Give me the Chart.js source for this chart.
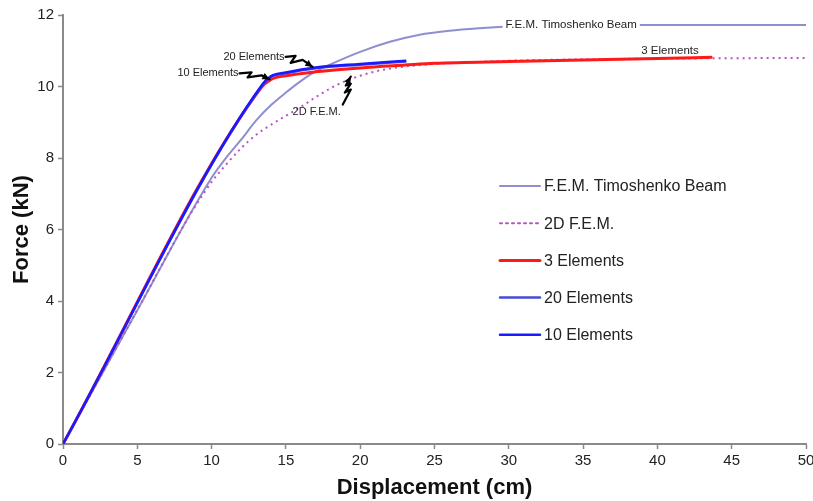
<!DOCTYPE html>
<html><head><meta charset="utf-8">
<script src="https://cdn.jsdelivr.net/npm/chart.js@4.4.1/dist/chart.umd.min.js"></script>
<style>html,body{margin:0;padding:0;background:#fff;}#wrap{width:813px;height:501px;}</style>
</head><body><div id="wrap"><canvas id="c" width="813" height="501"></canvas></div>
<script>
// ---- data (displacement cm, force kN) ----
const timoX = [0, 5, 10, 11, 12, 13, 14, 15, 16, 17, 18, 20, 22, 24, 26, 28, 30, 33, 40, 50];
const timoY = [0, 3.74, 7.45, 8.02, 8.52, 9.05, 9.48, 9.83, 10.15, 10.42, 10.62, 10.97, 11.25, 11.45, 11.56, 11.63, 11.68, 11.72, 11.72, 11.72];
const fem2dX = [0, 5, 8.5, 9.5, 10, 11, 12, 13, 14, 15, 16, 17, 18, 19, 20, 21, 22, 24, 27, 30, 35, 40, 50];
const fem2dY = [0, 3.75, 6.38, 7.03, 7.33, 7.83, 8.28, 8.65, 8.93, 9.18, 9.43, 9.7, 9.95, 10.15, 10.3, 10.42, 10.5, 10.6, 10.67, 10.72, 10.76, 10.78, 10.8];
const el3X = [0, 13.3, 14, 15, 17, 20, 23, 25, 30, 35, 40, 43.7];
const el3Y = [0, 9.95, 10.2, 10.3, 10.41, 10.52, 10.6, 10.65, 10.7, 10.74, 10.78, 10.82];
const el20X = [0, 13.4, 14, 15, 17, 20, 23.1];
const el20Y = [0, 10.03, 10.27, 10.37, 10.51, 10.61, 10.7];
const el10X = [0, 13.4, 14, 15, 17, 20, 23.1];
const el10Y = [0, 10.05, 10.29, 10.39, 10.53, 10.63, 10.72];
const xTicks = [0, 5, 10, 15, 20, 25, 30, 35, 40, 45, 50];
const yTicks = [0, 2, 4, 6, 8, 10, 12];
const seriesNames = ['F.E.M. Timoshenko Beam', '2D F.E.M.', '3 Elements', '20 Elements', '10 Elements'];

const pts = (xs, ys) => xs.map((x, i) => ({x, y: ys[i]}));
const FONT = "'Liberation Sans', Arial, sans-serif";

const datasets = [
  {label: seriesNames[0], data: pts(timoX, timoY), borderColor: '#8e8ed0', borderWidth: 2, order: 5},
  {label: seriesNames[1], data: pts(fem2dX, fem2dY), borderColor: '#b455c0', borderWidth: 2, borderDash: [2, 4], order: 4},
  {label: seriesNames[2], data: pts(el3X, el3Y), borderColor: '#ff1a1a', borderWidth: 3, order: 3},
  {label: seriesNames[3], data: pts(el20X, el20Y), borderColor: '#4a4ad8', borderWidth: 2.5, order: 2},
  {label: seriesNames[4], data: pts(el10X, el10Y), borderColor: '#1a1aff', borderWidth: 2.5, order: 1},
];
datasets.forEach(d => { d.pointRadius = 0; d.fill = false; d.cubicInterpolationMode = 'monotone'; });

// on-chart labels (anchor in data units, offsets in px)
const callouts = [
  {text: 'F.E.M. Timoshenko Beam', x: 34.2, y: 11.72, box: true},
  {text: '3 Elements', x: 40.85, y: 10.82, dy: -6},
];
const arrows = [
  {text: '20 Elements', tx: 17, ty: 10.52, path: [[-30,-11],[-20,-12],[-25,-5],[-13,-8],[-3,-1]], lab: [-31,-11,'right']},
  {text: '10 Elements', tx: 13.9, ty: 10.2, path: [[-30,-6],[-18,-7],[-22,-2],[-8,-4],[0,0]], lab: [-31,-6,'right']},
  {text: '2D F.E.M.', tx: 19.3, ty: 10.25, path: [[-7,27],[1,12],[-5,15],[1,6],[-4,8],[1,-1]], lab: [-9,34,'right']},
];

const overlay = {
  id: 'overlay',
  afterDatasetsDraw(chart) {
    const ctx = chart.ctx, xs = chart.scales.x, ys = chart.scales.y;
    ctx.save();
    ctx.font = '11.5px ' + FONT;
    ctx.textBaseline = 'middle';
    callouts.forEach(c => {
      const px = xs.getPixelForValue(c.x), py = ys.getPixelForValue(c.y) + (c.dy || 0);
      ctx.textAlign = 'center';
      const w = ctx.measureText(c.text).width;
      if (c.box) { ctx.fillStyle = '#fff'; ctx.fillRect(px - w / 2 - 3, py - 6, w + 6, 12); }
      ctx.fillStyle = '#222';
      ctx.fillText(c.text, px, py);
    });
    ctx.font = '11px ' + FONT;
    arrows.forEach(a => {
      const px = xs.getPixelForValue(a.tx), py = ys.getPixelForValue(a.ty);
      ctx.strokeStyle = '#000'; ctx.lineWidth = 2.2; ctx.lineJoin = 'round'; ctx.lineCap = 'round';
      ctx.beginPath();
      a.path.forEach((p, i) => i ? ctx.lineTo(px + p[0], py + p[1]) : ctx.moveTo(px + p[0], py + p[1]));
      ctx.stroke();
      const n = a.path.length, p1 = a.path[n - 2], p2 = a.path[n - 1];
      const ang = Math.atan2(p2[1] - p1[1], p2[0] - p1[0]);
      ctx.fillStyle = '#000';
      ctx.beginPath();
      ctx.moveTo(px + p2[0], py + p2[1]);
      ctx.lineTo(px + p2[0] - 8 * Math.cos(ang - 0.45), py + p2[1] - 8 * Math.sin(ang - 0.45));
      ctx.lineTo(px + p2[0] - 8 * Math.cos(ang + 0.45), py + p2[1] - 8 * Math.sin(ang + 0.45));
      ctx.closePath(); ctx.fill();
      ctx.fillStyle = '#222';
      ctx.textAlign = a.lab[2];
      ctx.fillText(a.text, px + a.lab[0], py + a.lab[1]);
    });
    // legend
    const lx = 500, ly = 186, gap = 37.2;
    ctx.font = '16px ' + FONT;
    ctx.textAlign = 'left';
    chart.data.datasets.forEach((d, i) => {
      const y = ly + i * gap;
      ctx.strokeStyle = d.borderColor; ctx.lineWidth = d.borderWidth;
      ctx.setLineDash(d.borderDash || []);
      ctx.beginPath(); ctx.moveTo(lx, y); ctx.lineTo(lx + 40, y); ctx.stroke();
      ctx.setLineDash([]);
      ctx.fillStyle = '#222';
      ctx.fillText(d.label, lx + 44, y + 1);
    });
    ctx.restore();
  }
};

new Chart(document.getElementById('c'), {
  type: 'line',
  data: {datasets},
  options: {
    responsive: false, animation: false,
    layout: {padding: {top: 15, right: 7, left: 0, bottom: 0}},
    plugins: {legend: {display: false}, tooltip: {enabled: false}},
    scales: {
      x: {
        type: 'linear', min: 0, max: 50,
        afterBuildTicks: s => { s.ticks = xTicks.map(v => ({value: v})); },
        afterFit: s => { s.height = 57; s.paddingRight = 0; s.paddingLeft = 0; },
        grid: {drawOnChartArea: false, tickLength: 5, color: '#8a8a8a', tickWidth: 1.5},
        border: {color: '#8a8a8a', width: 2},
        ticks: {color: '#222', font: {family: FONT, size: 15}, padding: 3, maxRotation: 0},
        title: {display: true, text: 'Displacement (cm)', color: '#111', font: {family: FONT, size: 22, weight: 'bold'}, padding: {top: 0, bottom: 0}}
      },
      y: {
        type: 'linear', min: 0, max: 12,
        afterBuildTicks: s => { s.ticks = yTicks.map(v => ({value: v})); },
        afterFit: s => { s.width = 63; },
        grid: {drawOnChartArea: false, tickLength: 5, color: '#8a8a8a', tickWidth: 1.5},
        border: {color: '#8a8a8a', width: 2},
        ticks: {color: '#222', font: {family: FONT, size: 15}, padding: 4},
        title: {display: true, text: 'Force (kN)', color: '#111', font: {family: FONT, size: 22, weight: 'bold'}, padding: {top: 9, bottom: 0}}
      }
    }
  },
  plugins: [overlay]
});
</script>
</body></html>
